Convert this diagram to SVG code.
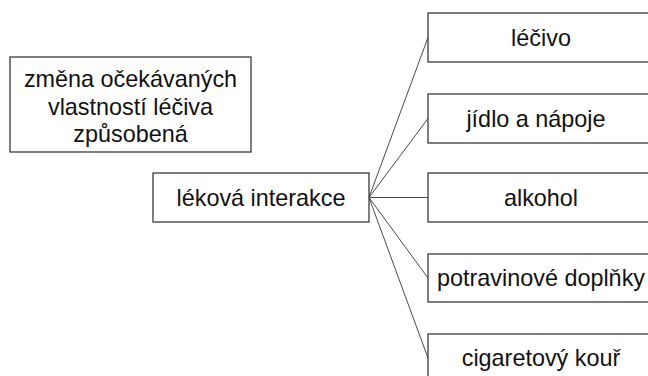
<svg xmlns="http://www.w3.org/2000/svg" width="648" height="376" viewBox="0 0 648 376">
  <style>
    .box { fill: #ffffff; stroke: #3a3a3a; stroke-width: 1.3; }
    .lbl { font-family: "Liberation Sans", Arial, sans-serif; font-size: 23.4px; fill: #111111; text-anchor: middle; }
    .link { stroke: #4a4a4a; stroke-width: 1; fill: none; }
  </style>
  <rect width="648" height="376" fill="#ffffff"/>

  <!-- connectors from the central node to each cause -->
  <g id="connectors">
    <line class="link" x1="369" y1="197.5" x2="428" y2="37.5"/>
    <line class="link" x1="369" y1="197.5" x2="428" y2="118.5"/>
    <line class="link" x1="369" y1="197.5" x2="428" y2="197.5"/>
    <line class="link" x1="369" y1="197.5" x2="428" y2="278"/>
    <line class="link" x1="369" y1="197.5" x2="428" y2="358"/>
  </g>

  <g id="definition">
    <rect class="box" x="10" y="57" width="241" height="95"/>
    <text class="lbl" x="130.5" y="87">změna očekávaných</text>
    <text class="lbl" x="130.5" y="114.5">vlastností léčiva</text>
    <text class="lbl" x="130.5" y="142">způsobená</text>
  </g>

  <g id="interaction">
    <rect class="box" x="153" y="173" width="216" height="49"/>
    <text class="lbl" x="261" y="205.5">léková interakce</text>
  </g>

  <g id="drug">
    <rect class="box" x="428" y="13" width="226" height="49"/>
    <text class="lbl" x="541" y="45.5">léčivo</text>
  </g>

  <g id="food">
    <rect class="box" x="428" y="94" width="226" height="49"/>
    <text class="lbl" x="536" y="126.5">jídlo a nápoje</text>
  </g>

  <g id="alcohol">
    <rect class="box" x="428" y="173" width="226" height="49"/>
    <text class="lbl" x="541" y="205.5">alkohol</text>
  </g>

  <g id="supplements">
    <rect class="box" x="428" y="254" width="226" height="48"/>
    <text class="lbl" x="541" y="285.5">potravinové doplňky</text>
  </g>

  <g id="smoke">
    <rect class="box" x="428" y="334" width="226" height="49"/>
    <text class="lbl" x="541" y="366">cigaretový kouř</text>
  </g>
</svg>
